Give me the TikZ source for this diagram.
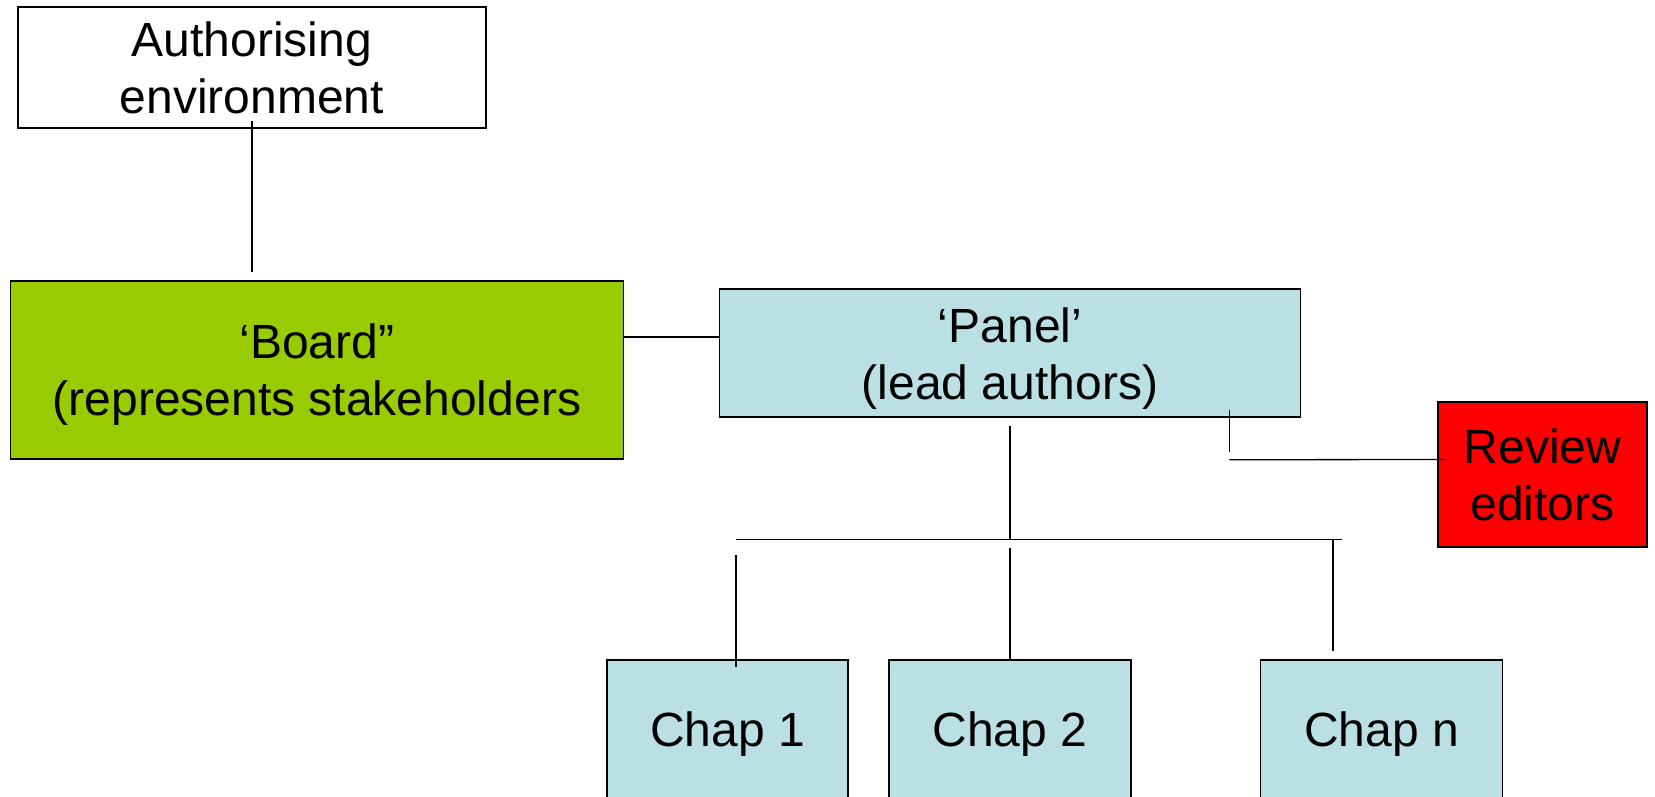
\documentclass[tikz,border=0pt]{standalone}
\usepackage{fontspec}
\setmainfont{Liberation Sans}
\usetikzlibrary{calc}
\tikzset{>=stealth}
\definecolor{boardgreen}{RGB}{153,204,0}
\definecolor{panelblue}{RGB}{187,224,227}
\definecolor{reviewred}{RGB}{255,0,0}
\tikzset{box/.style={draw,line width=1.5pt,align=center,inner sep=0pt,
  font=\fontsize{48}{57}\selectfont}}

\begin{document}
\begin{tikzpicture}[x=1pt,y=1pt,line width=1.3pt]
\useasboundingbox (0,0) rectangle (1655,796);
\node[box,minimum width=468pt,minimum height=121pt] (auth) at (252,728.5) {Authorising\\environment};
\node[box,fill=boardgreen,minimum width=613pt,minimum height=178pt] (board) at (317,426) {\rule{0pt}{43pt}`Board''\\(represents stakeholders};
\node[box,fill=panelblue,minimum width=581pt,minimum height=128pt] (panel) at (1010,443) {\rule{0pt}{45pt}`Panel'\\(lead authors)};
\node[box,fill=reviewred,minimum width=209pt,minimum height=145pt] (review) at (1542.5,321.5) {Review\\editors};
\node[box,fill=panelblue,minimum width=241pt,minimum height=148pt] (chap1) at (727.5,62) {Chap 1};
\node[box,fill=panelblue,minimum width=242pt,minimum height=148pt] (chap2) at (1010,62) {Chap 2};
\node[box,fill=panelblue,minimum width=242pt,minimum height=148pt] (chapn) at (1381.5,62) {Chap n};
% board to authorising environment
\draw ($(auth.south)+(0,8)$) -- ($(auth.south|-board.north)+(0,8)$);
% board to panel
\coordinate (bp) at ($(panel.west)+(0,16)$);
\draw (bp-|board.east) -- (bp);
% panel to chapters
\coordinate (bar) at ($(panel.south)+(0,-122)$);
\coordinate (bl) at (736,0|-bar);
\coordinate (br) at (1342,0|-bar);
\draw ($(panel.south)+(0,-8)$) -- (bar);
\draw (bl) -- (br);
\draw ($(bl)+(0,-15)$) -- ($(bl|-chap1.north)+(0,-8)$);
\draw ($(bar)+(0,-8)$) -- (chap2.north);
\draw ($(br)+(-9,0)$) -- ($(br|-chapn.north)+(-9,8)$);
% panel to review editors
\coordinate (rv) at ($(panel.south east)+(-72,-42)$);
\draw ($(rv)+(0,50)$) -- ($(rv)+(0,8)$);
\draw (rv) -- ($(review.west)+(9,15)$);
\end{tikzpicture}
\end{document}
